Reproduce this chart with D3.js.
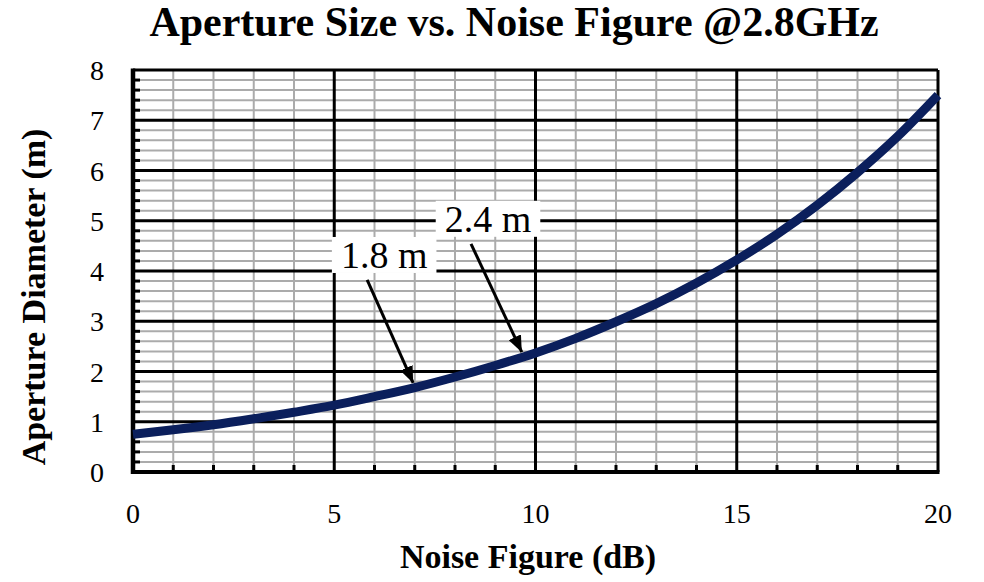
<!DOCTYPE html>
<html><head><meta charset="utf-8">
<script src="https://cdn.jsdelivr.net/npm/d3@7"></script>
<style>body{margin:0;background:#fff}svg{display:block}</style>
</head><body>
<svg id="c" width="984" height="582"></svg>
<script>
const noiseFigure = [0,1,2,3,4,5,6,7,8,9,10,11,12,13,14,15,16,17,18,19,20];
const diameter = [0.75,0.84,0.94,1.06,1.19,1.33,1.50,1.68,1.89,2.12,2.37,2.66,2.99,3.35,3.76,4.22,4.73,5.31,5.96,6.68,7.50];
const xTicks = [0,5,10,15,20];
const yTicks = [0,1,2,3,4,5,6,7,8];
const annotations = [
  {label:"1.8 m", nf:6.96, lx:6.24, ly:4.06},
  {label:"2.4 m", nf:9.66, lx:8.82, ly:4.78}
];
const title = "Aperture Size vs. Noise Figure @2.8GHz";
const xTitle = "Noise Figure (dB)";
const yTitle = "Aperture Diameter (m)";

const svg = d3.select("#c");
const L=133, R=938, T=70, B=472;
const x = d3.scaleLinear().domain([0,20]).range([L,R]);
const y = d3.scaleLinear().domain([0,8]).range([B,T]);
const font = "'Liberation Serif','Times New Roman',serif";

const minorX = d3.range(0,21,1).filter(v=>v%5);
const minorY = d3.range(0,41,1).filter(i=>i%5).map(i=>i/5);

const g = svg.append("g");
g.selectAll(".mx").data(minorX).join("line")
  .attr("x1",d=>x(d)).attr("x2",d=>x(d)).attr("y1",T).attr("y2",B)
  .attr("stroke","#ababab").attr("stroke-width",2);
g.selectAll(".my").data(minorY).join("line")
  .attr("x1",L).attr("x2",R).attr("y1",d=>y(d)).attr("y2",d=>y(d))
  .attr("stroke","#ababab").attr("stroke-width",2);
g.selectAll(".Mx").data(xTicks.slice(1,-1)).join("line")
  .attr("x1",d=>x(d)).attr("x2",d=>x(d)).attr("y1",T).attr("y2",B)
  .attr("stroke","#000").attr("stroke-width",3);
g.selectAll(".My").data(yTicks.slice(1,-1)).join("line")
  .attr("x1",L).attr("x2",R).attr("y1",d=>y(d)).attr("y2",d=>y(d))
  .attr("stroke","#000").attr("stroke-width",3);
g.selectAll(".ty").data(minorY).join("line")
  .attr("x1",L).attr("x2",L+7).attr("y1",d=>y(d)).attr("y2",d=>y(d))
  .attr("stroke","#000").attr("stroke-width",3);
g.selectAll(".tx").data(minorX).join("line")
  .attr("x1",d=>x(d)).attr("x2",d=>x(d)).attr("y1",B).attr("y2",B-7)
  .attr("stroke","#000").attr("stroke-width",3);
svg.append("line").attr("x1",L).attr("x2",R).attr("y1",T).attr("y2",T).attr("stroke","#000").attr("stroke-width",3);
svg.append("line").attr("x1",R).attr("x2",R).attr("y1",T).attr("y2",B).attr("stroke","#000").attr("stroke-width",3);
svg.append("line").attr("x1",L).attr("x2",L).attr("y1",T-1.5).attr("y2",B+2).attr("stroke","#000").attr("stroke-width",4.5);
svg.append("line").attr("x1",L-2).attr("x2",R+1.5).attr("y1",B).attr("y2",B).attr("stroke","#000").attr("stroke-width",4);

const line = d3.line().x((d,i)=>x(noiseFigure[i])).y(d=>y(d)).curve(d3.curveMonotoneX);
svg.append("path").datum(diameter).attr("d",line).attr("fill","none")
  .attr("stroke","#0b1f5c").attr("stroke-width",9).attr("stroke-linecap","butt");

svg.selectAll(".xl").data(xTicks).join("text").attr("x",d=>x(d)).attr("y",523)
  .attr("text-anchor","middle").attr("font-family",font).attr("font-size",28).text(d=>d);
svg.selectAll(".yl").data(yTicks).join("text").attr("x",104).attr("y",d=>y(d)+10)
  .attr("text-anchor","end").attr("font-family",font).attr("font-size",28).text(d=>d);

const defs = svg.append("defs");
defs.append("marker").attr("id","ah").attr("viewBox","0 0 10 10").attr("refX",10).attr("refY",5)
  .attr("markerWidth",5.5).attr("markerHeight",4.5).attr("markerUnits","strokeWidth").attr("orient","auto")
  .attr("preserveAspectRatio","none")
  .append("path").attr("d","M0,0 L10,5 L0,10 z").attr("fill","#000");
const interp = nf => { const i=Math.floor(nf), f=nf-i; return diameter[i]+(diameter[Math.min(i+1,20)]-diameter[i])*f; };
annotations.forEach(a=>{
  const tx = x(a.lx), ty = y(a.ly);
  const t = svg.append("text").attr("x",tx).attr("y",ty).attr("text-anchor","middle")
    .attr("font-family",font).attr("font-size",38).text(a.label);
  const bb = t.node().getBBox();
  svg.insert("rect","text").attr("x",bb.x-9).attr("y",ty-31).attr("width",bb.width+18).attr("height",36).attr("fill","#fff");
  svg.append("line").attr("x1",tx-17).attr("y1",ty+12).attr("x2",x(a.nf)).attr("y2",y(interp(a.nf))-5)
    .attr("stroke","#000").attr("stroke-width",3).attr("marker-end","url(#ah)");
});

svg.append("text").attr("x",514).attr("y",36).attr("text-anchor","middle").attr("font-family",font)
  .attr("font-weight","bold").attr("font-size",42).text(title);
svg.append("text").attr("x",528).attr("y",568).attr("text-anchor","middle").attr("font-family",font)
  .attr("font-weight","bold").attr("font-size",34).text(xTitle);
svg.append("text").attr("transform","translate(45,297) rotate(-90)").attr("text-anchor","middle").attr("font-family",font)
  .attr("font-weight","bold").attr("font-size",34).text(yTitle);
</script>
</body></html>
